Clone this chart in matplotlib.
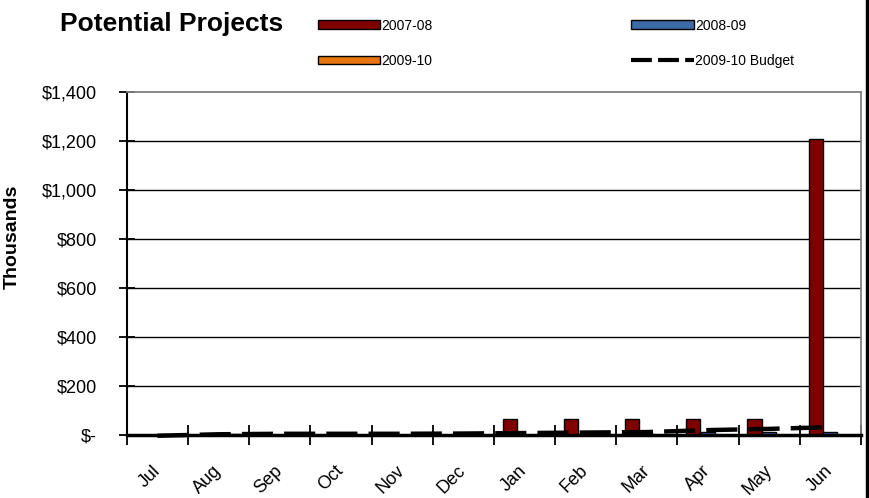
import matplotlib.pyplot as plt
import matplotlib.ticker as ticker
from matplotlib.patches import Patch
from matplotlib.lines import Line2D
import numpy as np

plt.rcParams['font.family'] = ['Liberation Sans', 'DejaVu Sans']

months = ['Jul', 'Aug', 'Sep', 'Oct', 'Nov', 'Dec',
          'Jan', 'Feb', 'Mar', 'Apr', 'May', 'Jun']
# values in thousands of dollars
fy0708 = [0, 0, 0, 0, 0, 0, 65, 65, 65, 65, 65, 1210]
fy0809 = [0, 0, 0, 0, 0, 0, 0, 2, 3, 14, 14, 14]
fy0910 = [2, 3, 0, 0, 0, 0, 0, 0, 0, 0, 0, 0]
budget0910 = [-3, 3, 5, 5, 5, 6, 8, 10, 12, 20, 25, 32]
yticks = [0, 200, 400, 600, 800, 1000, 1200, 1400]

red = '#800000'
blue = '#3C6BA5'
orange = '#E8750F'

fig = plt.figure(figsize=(8.69, 4.98), dpi=100)
ax = fig.add_axes([0.146, 0.1265, 0.8447, 0.6888])

x = np.arange(len(months))
w = 0.23
ax.bar(x - 0.24, fy0708, w, color=red, edgecolor='black', linewidth=1, zorder=3)
ax.bar(x, fy0809, w, color=blue, edgecolor='black', linewidth=1, zorder=3)
ax.bar(x + 0.24, fy0910, w, color=orange, edgecolor='black', linewidth=1, zorder=3)
ax.plot(x, budget0910, color='black', linewidth=3.2, dashes=(7, 2.5),
        zorder=4, clip_on=False)

ax.set_xlim(-0.5, len(months) - 0.5)
ax.set_ylim(0, 1400)

# gridlines
ax.set_yticks(yticks)
ax.yaxis.set_major_formatter(ticker.FuncFormatter(
    lambda v, p: '$-' if v == 0 else '${:,.0f}'.format(v)))
for v in yticks[1:-1]:
    ax.axhline(v, color='black', linewidth=1, zorder=1)

# category boundaries as major ticks, labels at centres
ax.set_xticks(np.arange(-0.5, len(months)))
ax.xaxis.set_major_formatter(ticker.NullFormatter())
ax.set_xticks(x, minor=True)
ax.set_xticklabels(months, minor=True, rotation=45, ha='right', va='center',
                   rotation_mode='anchor', fontsize=13)
ax.tick_params(axis='x', which='minor', length=0, pad=24)
ax.tick_params(axis='x', which='major', direction='inout', length=14, width=1.3)
ax.tick_params(axis='y', direction='inout', length=11, width=1.3, labelsize=13, pad=16)

for side in ['top', 'right']:
    ax.spines[side].set_color('#808080')
    ax.spines[side].set_linewidth(1.3)
ax.spines['left'].set_linewidth(1.5)
ax.spines['bottom'].set_linewidth(2.5)
ax.spines['bottom'].set_zorder(5)

ax.set_ylabel('Thousands', fontsize=14, fontweight='bold')
ax.yaxis.set_label_coords(-0.1444, 0.577)

fig.text(60 / 869, 1 - 31 / 498, 'Potential Projects', fontsize=19,
         fontweight='bold', va='baseline', ha='left')

handles = [Patch(facecolor=red, edgecolor='black'),
           Patch(facecolor=orange, edgecolor='black'),
           Patch(facecolor=blue, edgecolor='black'),
           Line2D([], [], color='black', linewidth=3, dashes=(5, 1.5))]
labels = ['2007-08', '2009-10', '2008-09', '2009-10 Budget']
fig.legend(handles, labels, ncol=2, loc='upper left',
           bbox_to_anchor=(305 / 869, 1 - 6 / 498), frameon=False,
           fontsize=10, handlelength=4.5, handleheight=0.55,
           handletextpad=0.1, columnspacing=14.3, labelspacing=1.55)

# outer frame edge on the right
fig.add_artist(Line2D([0.9975, 0.9975], [0, 1], color='black', linewidth=2.5,
                      transform=fig.transFigure))

fig.savefig('out.png', dpi=100)
